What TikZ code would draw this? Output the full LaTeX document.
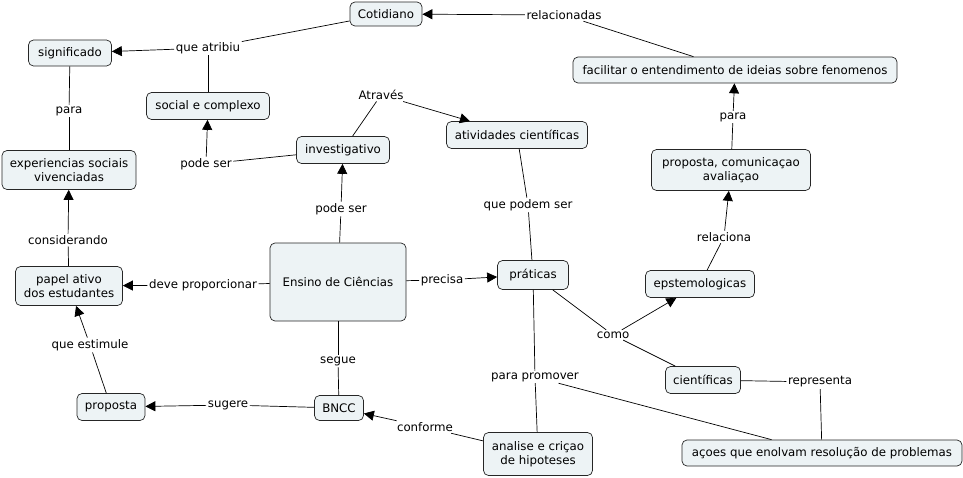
\documentclass[tikz,border=0pt]{standalone}
\usepackage{fontspec}
\setmainfont{DejaVu Sans}
\usetikzlibrary{arrows.meta}
\definecolor{cfill}{RGB}{237,243,245}
\newcommand\cmfont{\fontsize{11.8}{14.5}\selectfont}
\tikzset{
  concept/.style={draw=black!85, fill=cfill, rounded corners=5pt, line width=0.7pt, font=\cmfont, align=center, inner sep=0pt},
  lab/.style={font=\cmfont, inner sep=1.5pt},
  link/.style={draw, line width=0.7pt},
  arr/.style={link, -{Triangle[length=10pt,width=10pt]}}
}
\begin{document}
\begin{tikzpicture}[x=1pt,y=-1pt]
\useasboundingbox (0,0) rectangle (963,477);
% concepts
\node[concept, minimum width=72pt, minimum height=24pt] (cot) at (386,14) {Cotidiano};
\node[concept, minimum width=83pt, minimum height=26pt] (sig) at (70,53) {significado};
\node[concept, minimum width=123pt, minimum height=27pt] (soc) at (208,106) {social e complexo};
\node[concept, minimum width=134pt, minimum height=39pt] (exp) at (69,170) {experiencias sociais\\vivenciadas};
\node[concept, minimum width=93pt, minimum height=27pt] (inv) at (343,150) {investigativo};
\node[concept, minimum width=141pt, minimum height=27pt] (ati) at (517,135) {atividades científicas};
\node[concept, minimum width=324pt, minimum height=26pt] (fac) at (735,70) {facilitar o entendimento de ideias sobre fenomenos};
\node[concept, minimum width=159pt, minimum height=41pt] (pca) at (731,170) {proposta, comunicaçao\\avaliaçao};
\node[concept, minimum width=107pt, minimum height=39pt] (pap) at (69,286) {papel ativo\\dos estudantes};
\node[concept, minimum width=136pt, minimum height=78pt] (ens) at (338,282) {Ensino de Ciências};
\node[concept, minimum width=71pt, minimum height=29pt] (pra) at (533,275) {práticas};
\node[concept, minimum width=109pt, minimum height=27pt] (epi) at (700,284) {epstemologicas};
\node[concept, minimum width=68pt, minimum height=27pt] (pro) at (111,407) {proposta};
\node[concept, minimum width=49pt, minimum height=25pt] (bncc) at (339,408) {BNCC};
\node[concept, minimum width=75pt, minimum height=27pt] (cie) at (703,380) {científicas};
\node[concept, minimum width=109pt, minimum height=43pt] (ana) at (538,454) {analise e criçao\\de hipoteses};
\node[concept, minimum width=280pt, minimum height=26pt] (aco) at (822,453) {açoes que enolvam resolução de problemas};
% link labels
\node[lab] (latr) at (208,48) {que atribiu};
\node[lab] (lrel) at (564,15) {relacionadas};
\node[lab] (lpa1) at (69,111) {para};
\node[lab] (lps1) at (206,164) {pode ser};
\node[lab] (latv) at (381,95) {Através};
\node[lab] (lpa2) at (733,117) {para};
\node[lab] (lps2) at (341,209) {pode ser};
\node[lab] (lqps) at (528,205) {que podem ser};
\node[lab] (lcon) at (68,240) {considerando};
\node[lab] (lre2) at (724,237) {relaciona};
\node[lab] (ldp) at (203,285) {deve proporcionar};
\node[lab] (lpre) at (442,280) {precisa};
\node[lab] (lcom) at (613,335) {como};
\node[lab] (lqe) at (90,345) {que estimule};
\node[lab] (lseg) at (338,361) {segue};
\node[lab] (lpp) at (535,377) {para promover};
\node[lab] (lrep) at (820,382) {representa};
\node[lab] (lsug) at (228,405) {sugere};
\node[lab] (lcf) at (425,427) {conforme};
% connectors
\draw[link] (soc) -- (latr);
\draw[link] (cot) -- (latr);
\draw[arr] (latr) -- (sig);
\draw[link] (fac) -- (lrel);
\draw[arr] (lrel) -- (cot);
\draw[link] (exp) -- (lpa1);
\draw[link] (lpa1) -- (sig);
\draw[link] (inv) -- (lps1);
\draw[arr] (lps1) -- (soc);
\draw[link] (inv) -- (latv);
\draw[arr] (latv) -- (ati);
\draw[link] (pca) -- (lpa2);
\draw[arr] (lpa2) -- (fac);
\draw[link] (ens) -- (lps2);
\draw[arr] (lps2) -- (inv);
\draw[link] (pra) -- (lqps);
\draw[link] (lqps) -- (ati);
\draw[link] (pap) -- (lcon);
\draw[arr] (lcon) -- (exp);
\draw[link] (epi) -- (lre2);
\draw[arr] (lre2) -- (pca);
\draw[link] (ens) -- (ldp);
\draw[arr] (ldp) -- (pap);
\draw[link] (ens) -- (lpre);
\draw[arr] (lpre) -- (pra);
\draw[link] (pra) -- (lcom);
\draw[arr] (lcom) -- (epi);
\draw[link] (lcom) -- (cie);
\draw[link] (pro) -- (lqe);
\draw[arr] (lqe) -- (pap);
\draw[link] (ens) -- (lseg);
\draw[link] (lseg) -- (bncc);
\draw[link] (pra) -- (lpp);
\draw[link] (lpp) -- (ana);
\draw[link] (lpp) -- (aco);
\draw[link] (cie) -- (lrep);
\draw[link] (lrep) -- (aco);
\draw[link] (bncc) -- (lsug);
\draw[arr] (lsug) -- (pro);
\draw[link] (ana) -- (lcf);
\draw[arr] (lcf) -- (bncc);
\end{tikzpicture}
\end{document}
